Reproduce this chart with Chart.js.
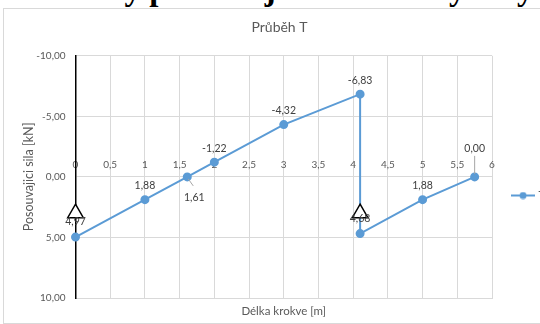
<!DOCTYPE html>
<html>
<head>
<meta charset="utf-8">
<script src="https://cdn.jsdelivr.net/npm/chart.js@4.4.0/dist/chart.umd.min.js"></script>
<style>
  html, body { margin: 0; padding: 0; background: #fff; overflow: hidden; width: 540px; height: 324px; }
  #heading { position: absolute; left: 20px; top: -27px; font: bold 33px "Liberation Serif", serif; line-height: 33px; white-space: nowrap; color: #000; z-index: 2; }
  #box { position: absolute; left: 3px; top: 8px; border: 1px solid #d9d9d9; width: 552px; height: 314px; background: #fff; }
  canvas { display: block; }
</style>
</head>
<body>
<div id="heading">Průběhy posouvajících sil a ohybových momentů</div>
<div id="box"><canvas id="chart" width="552" height="314"></canvas></div>
<script>
// --- Data ---
const xValues = [0, 1, 1.61, 2, 3, 4.1, 4.1, 5, 5.75];
const tValues = [4.97, 1.88, 0, -1.22, -4.32, -6.83, 4.68, 1.88, 0];
const pointLabels = ['4,97', '1,88', '1,61', '-1,22', '-4,32', '-6,83', '4,68', '1,88', '0,00'];
const supportX = [0, 4.1];
const supportY = [3, 3];

// label placement relative to the point, in px
const labelOffsets = [[0, -15], [0, -14], [7, 21], [0, -14], [0, -14], [0, -14], [0, -15], [0, -14], [0, -28]];
const leaderLines = { 2: [[1, 2], [6, 9]], 8: [[0, -21], [0, -3]] };

const grey = '#595959';
const gridGrey = '#d9d9d9';
const blue = '#5b9bd5';
const commaNum = v => String(v).replace('.', ',');

// legend icon: line with a marker in the middle
const legendIcon = document.createElement('canvas');
legendIcon.width = 24;
legendIcon.height = 8;
(function () {
  const c = legendIcon.getContext('2d');
  c.strokeStyle = blue;
  c.lineWidth = 2;
  c.beginPath(); c.moveTo(0, 4); c.lineTo(24, 4); c.stroke();
  c.fillStyle = blue;
  c.beginPath(); c.arc(12, 4, 3.5, 0, Math.PI * 2); c.fill();
})();

// --- Value labels next to the points ---
const valueLabels = {
  id: 'valueLabels',
  afterDatasetsDraw(chart) {
    const meta = chart.getDatasetMeta(1);
    const ctx = chart.ctx;
    ctx.save();
    ctx.strokeStyle = '#a6a6a6';
    ctx.lineWidth = 1;
    Object.keys(leaderLines).forEach(k => {
      const pt = meta.data[k];
      const [a, b] = leaderLines[k];
      ctx.beginPath();
      ctx.moveTo(pt.x + a[0], pt.y + a[1]);
      ctx.lineTo(pt.x + b[0], pt.y + b[1]);
      ctx.stroke();
    });
    ctx.font = '10.5px Lato';
    ctx.fillStyle = '#404040';
    ctx.textAlign = 'center';
    ctx.textBaseline = 'middle';
    meta.data.forEach((pt, i) => {
      const [dx, dy] = labelOffsets[i];
      ctx.fillText(pointLabels[i], pt.x + dx, pt.y + dy);
    });
    ctx.restore();
  }
};

new Chart(document.getElementById('chart'), {
  type: 'scatter',
  data: {
    datasets: [
      {
        label: 'podpory',
        data: supportX.map((x, i) => ({ x: x, y: supportY[i] })),
        pointStyle: 'triangle',
        pointRadius: 9,
        pointBackgroundColor: '#fff',
        pointBorderColor: '#000',
        pointBorderWidth: 1.5,
        showLine: false,
        clip: false
      },
      {
        label: 'T',
        data: xValues.map((x, i) => ({ x: x, y: tValues[i] })),
        showLine: true,
        borderColor: blue,
        borderWidth: 2,
        pointRadius: 3.5,
        pointBackgroundColor: blue,
        pointBorderColor: blue,
        clip: false
      }
    ]
  },
  options: {
    responsive: false,
    animation: false,
    layout: { padding: { right: 1 } },
    plugins: {
      title: {
        display: true,
        text: 'Průběh T',
        color: grey,
        font: { family: 'Lato', size: 14, weight: 'normal' },
        padding: { top: 10, bottom: 20 }
      },
      legend: {
        position: 'right',
        title: { display: true, text: ' ', padding: { top: 41, bottom: 0 }, font: { size: 15 } },
        labels: {
          usePointStyle: true,
          pointStyleWidth: 20,
          boxHeight: 8,
          padding: 21,
          color: grey,
          font: { family: 'Lato', size: 11 },
          generateLabels: chart => Chart.defaults.plugins.legend.labels.generateLabels(chart)
            .map(item => Object.assign(item, { pointStyle: legendIcon })),
          filter: item => item.text === 'T'
        }
      },
      tooltip: { enabled: false }
    },
    scales: {
      x: {
        type: 'linear',
        position: 'bottom',
        min: 0,
        max: 6,
        afterFit: s => { s.height = 25; },
        ticks: { stepSize: 0.5, display: false },
        grid: { color: gridGrey, drawTicks: false },
        border: { color: gridGrey },
        title: {
          display: true,
          text: 'Délka krokve [m]',
          color: grey,
          font: { family: 'Lato', size: 11.5 },
          padding: { top: 0, bottom: 4.5 }
        }
      },
      xt: {
        type: 'linear',
        axis: 'x',
        position: { y: 0 },
        min: 0,
        max: 6,
        grid: { display: false, drawTicks: false },
        border: { display: false },
        ticks: {
          stepSize: 0.5,
          mirror: true,
          padding: -6,
          color: grey,
          font: { family: 'Lato', size: 10 },
          callback: v => commaNum(v)
        }
      },
      y: {
        type: 'linear',
        reverse: true,
        min: -10,
        max: 10,
        afterFit: s => { s.width = 71.5; },
        ticks: {
          stepSize: 5,
          padding: 10,
          color: grey,
          font: { family: 'Lato', size: 10 },
          callback: v => v.toFixed(2).replace('.', ',')
        },
        grid: { color: gridGrey, drawTicks: false },
        border: { color: '#000', width: 1.5 },
        title: {
          display: true,
          text: 'Posouvajici sila [kN]',
          color: grey,
          font: { family: 'Lato', size: 12.5 },
          padding: { top: 17, bottom: 0 }
        }
      }
    }
  },
  plugins: [valueLabels]
});
</script>
</body>
</html>
